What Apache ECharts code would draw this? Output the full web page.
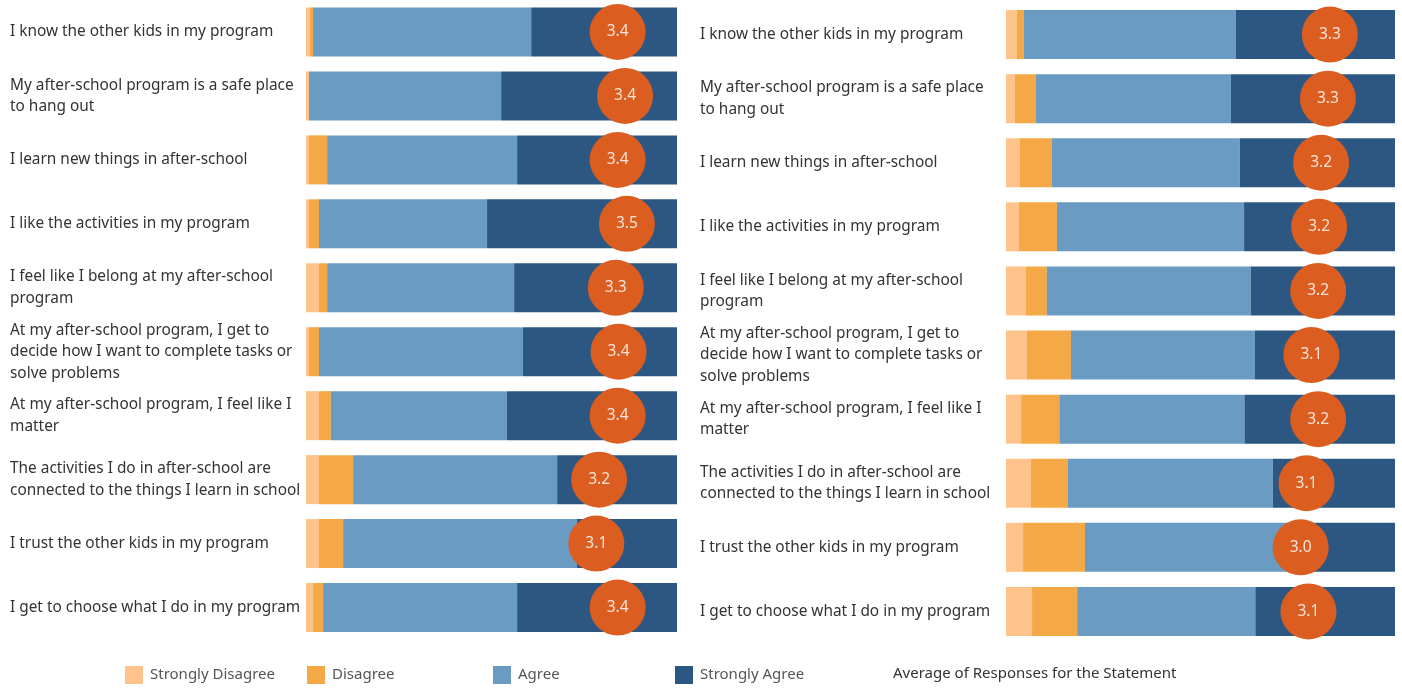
<!DOCTYPE html>
<html>
<head>
<meta charset="utf-8">
<script src="https://cdn.jsdelivr.net/npm/echarts@6/dist/echarts.min.js"></script>
<style>
html,body{margin:0;padding:0;background:#fff;}
#chart{width:1402px;height:689px;}
</style>
</head>
<body>
<div id="chart"></div>
<script>
var statements = [
  "I know the other kids in my program",
  "My after-school program is a safe place\nto hang out",
  "I learn new things in after-school",
  "I like the activities in my program",
  "I feel like I belong at my after-school\nprogram",
  "At my after-school program, I get to\ndecide how I want to complete tasks or\nsolve problems",
  "At my after-school program, I feel like I\nmatter",
  "The activities I do in after-school are\nconnected to the things I learn in school",
  "I trust the other kids in my program",
  "I get to choose what I do in my program"
];
var responseNames = ["Strongly Disagree", "Disagree", "Agree", "Strongly Agree"];
var avgName = "Average of Responses for the Statement";

// Left panel (percent of responses)
var leftStronglyDisagree = [1.1, 0.8, 0.8, 0.8, 3.5, 0.8, 3.5, 3.5, 3.5, 1.9];
var leftDisagree         = [0.8, 0.0, 4.9, 2.7, 2.2, 2.7, 3.2, 9.2, 6.5, 2.7];
var leftAgree            = [58.8, 51.8, 51.2, 45.3, 50.4, 55.0, 47.4, 55.0, 63.0, 52.3];
var leftStronglyAgree    = [39.3, 47.4, 43.1, 51.2, 43.9, 41.5, 45.9, 32.3, 27.0, 43.1];
var leftAverage          = [3.36, 3.44, 3.36, 3.46, 3.34, 3.37, 3.36, 3.16, 3.13, 3.36];

// Right panel (percent of responses)
var rightStronglyDisagree = [2.8, 2.3, 3.6, 3.3, 5.1, 5.4, 3.9, 6.4, 4.4, 6.7];
var rightDisagree         = [1.8, 5.4, 8.2, 9.8, 5.4, 11.3, 9.8, 9.5, 15.9, 11.6];
var rightAgree            = [54.5, 50.1, 48.3, 48.1, 52.4, 47.3, 47.6, 52.7, 51.7, 45.8];
var rightStronglyAgree    = [40.9, 42.2, 39.9, 38.8, 37.1, 36.0, 38.7, 31.4, 28.0, 35.9];
var rightAverage          = [3.33, 3.31, 3.24, 3.22, 3.21, 3.14, 3.21, 3.09, 3.03, 3.11];

var colors = ["#FEC38A", "#F4A846", "#699BC3", "#2C5783"];
var circleColor = "#DB5E20";
var FONT = "Noto Sans";

var leftData = [leftStronglyDisagree, leftDisagree, leftAgree, leftStronglyAgree];
var rightData = [rightStronglyDisagree, rightDisagree, rightAgree, rightStronglyAgree];

var grids = [
  {left: 306, width: 371, top: -1.5, height: 641},
  {left: 1006, width: 389, top: 2.5, height: 641}
];
var labelMargins = [296, 306];

var xAxes = [], yAxes = [], series = [];
[0, 1].forEach(function (g) {
  xAxes.push({type: 'value', gridIndex: g, min: 0, max: 100, show: false});
  xAxes.push({type: 'value', gridIndex: g, min: 0, max: 4, show: false});
  yAxes.push({
    type: 'category', gridIndex: g, data: statements, inverse: true,
    axisLine: {show: false}, axisTick: {show: false}, splitLine: {show: false},
    axisLabel: {
      align: 'left', margin: labelMargins[g], color: '#333333', fontFamily: FONT, fontSize: 15.4,
      lineHeight: 21.5, padding: [2, 0, 0, 0]
    }
  });
  var data = g === 0 ? leftData : rightData;
  responseNames.forEach(function (n, i) {
    series.push({
      type: 'bar', name: n, stack: 'panel' + g, xAxisIndex: g * 2, yAxisIndex: g,
      barWidth: 49, data: data[i], itemStyle: {color: colors[i]}, silent: true, z: 2
    });
  });
  var avg = g === 0 ? leftAverage : rightAverage;
  series.push({
    type: 'scatter', name: avgName, xAxisIndex: g * 2 + 1, yAxisIndex: g,
    symbolSize: 56, z: 5,
    itemStyle: {color: circleColor, opacity: 1},
    data: avg.map(function (v, i) { return [v, statements[i]]; }),
    label: {
      show: true, position: 'inside', color: '#F6E3D8', fontFamily: FONT, fontSize: 15.5,
      formatter: function (p) { return p.value[0].toFixed(1); }
    }
  });
});

var legendLefts = [125, 307, 493, 675];
var legends = responseNames.map(function (n, i) {
  return {
    data: [n], left: legendLefts[i], top: 666, padding: 0, itemWidth: 18, itemHeight: 18,
    icon: 'rect', selectedMode: false,
    textStyle: {color: '#555555', fontFamily: FONT, fontSize: 15, padding: [2, 0, 0, 2]}
  };
});

var chart = echarts.init(document.getElementById('chart'), null, {renderer: 'canvas'});
chart.setOption({
  animation: false,
  backgroundColor: '#ffffff',
  grid: grids,
  xAxis: xAxes,
  yAxis: yAxes,
  legend: legends,
  graphic: [{
    type: 'text', left: 893, top: 666,
    style: {text: avgName, fill: '#333333', font: '15px "Noto Sans"'}
  }],
  series: series
});
</script>
</body>
</html>
